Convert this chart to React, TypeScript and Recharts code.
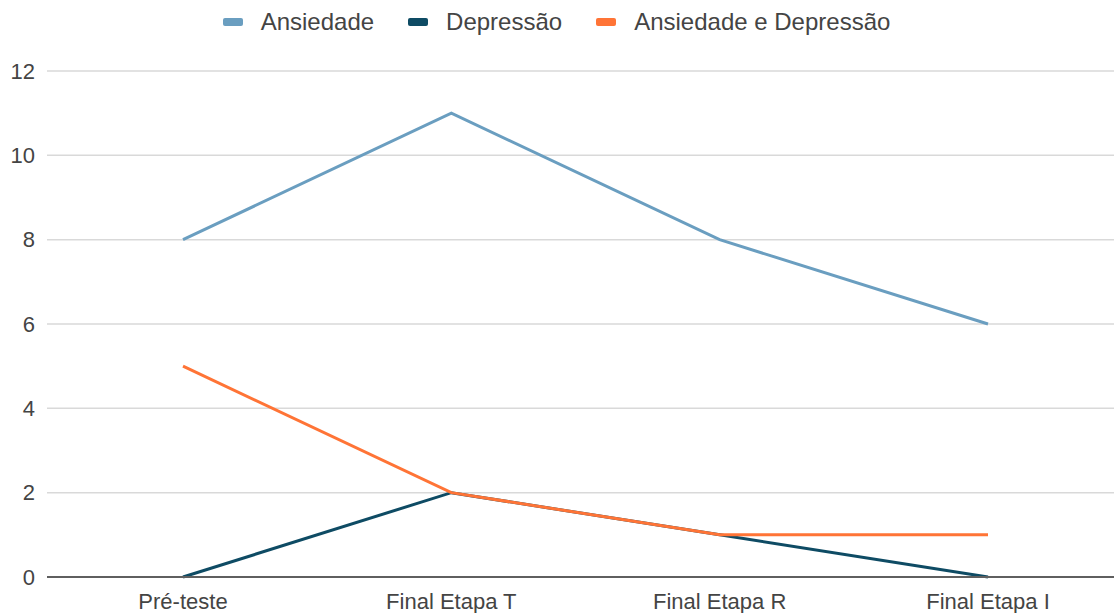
import { CartesianGrid, Legend, Line, LineChart, XAxis, YAxis } from 'recharts';

const stages = ['Pré-teste', 'Final Etapa T', 'Final Etapa R', 'Final Etapa I'];
const ansiedade = [8, 11, 8, 6];
const depressao = [0, 2, 1, 0];
const ansiedadeDepressao = [5, 2, 1, 1];
const yTicks = [0, 2, 4, 6, 8, 10, 12];

const series = [
  { key: 'ansiedade', name: 'Ansiedade', color: '#6a9ec0' },
  { key: 'depressao', name: 'Depressão', color: '#0e4b64' },
  { key: 'ansiedadeDepressao', name: 'Ansiedade e Depressão', color: '#ff7436' },
];

const data = stages.map((stage, i) => ({
  stage,
  ansiedade: ansiedade[i],
  depressao: depressao[i],
  ansiedadeDepressao: ansiedadeDepressao[i],
}));

const font = 'Arial, "Liberation Sans", sans-serif';

function ChartLegend() {
  return (
    <div
      style={{
        height: 40,
        display: 'flex',
        justifyContent: 'center',
        alignItems: 'center',
        gap: 34,
        fontFamily: font,
        fontSize: 24,
        color: '#444444',
        paddingRight: 8,
      }}
    >
      {series.map((s) => (
        <div key={s.key} style={{ display: 'flex', alignItems: 'center', gap: 18 }}>
          <span
            style={{ width: 20, height: 8, borderRadius: 2, backgroundColor: s.color, display: 'inline-block' }}
          />
          <span>{s.name}</span>
        </div>
      ))}
    </div>
  );
}

export default function App() {
  return (
    <div style={{ position: 'absolute', left: 0, top: 0, width: 1114, height: 613, overflow: 'hidden', background: '#fff' }}>
      <LineChart width={1121} height={613} data={data} margin={{ top: 31, right: 0, bottom: 6, left: 0 }}>
        <Legend verticalAlign="top" content={() => <ChartLegend />} wrapperStyle={{ top: 2 }} />
        <CartesianGrid vertical={false} stroke="#d9d9d9" strokeWidth={1.5} />
        <XAxis
          dataKey="stage"
          height={30}
          padding={{ left: 136, right: 133 }}
          tickLine={false}
          axisLine={{ stroke: '#5f5f5f', strokeWidth: 2 }}
          tickMargin={10}
          tick={{ fill: '#444444', fontSize: 22, fontFamily: font }}
        />
        <YAxis
          width={47}
          domain={[0, 12]}
          ticks={yTicks}
          axisLine={false}
          tickLine={false}
          tickMargin={6}
          tick={{ fill: '#444444', fontSize: 22, fontFamily: font }}
        />
        {series.map((s) => (
          <Line
            key={s.key}
            type="linear"
            dataKey={s.key}
            name={s.name}
            stroke={s.color}
            strokeWidth={3}
            dot={false}
            activeDot={false}
            isAnimationActive={false}
          />
        ))}
      </LineChart>
    </div>
  );
}
